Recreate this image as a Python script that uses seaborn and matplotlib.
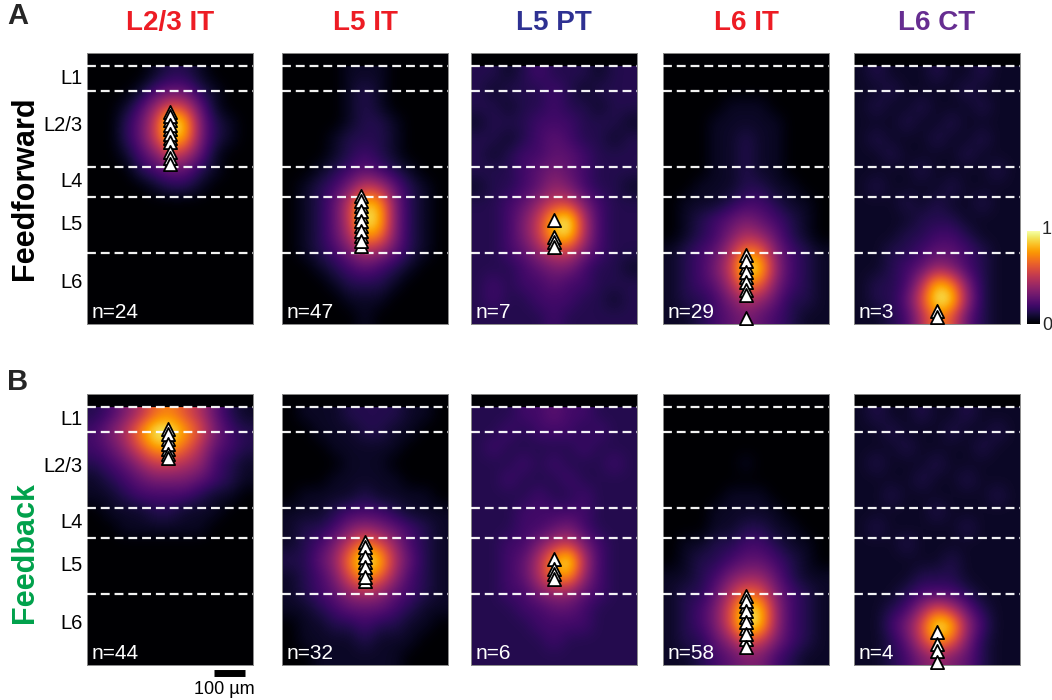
import numpy as np
import matplotlib
matplotlib.use("Agg")
import matplotlib.pyplot as plt
import seaborn as sns

sns.set_theme(style="white")
plt.rcParams['font.family'] = ['Liberation Sans', 'DejaVu Sans']

# ---------------- data ----------------
cell_types = ["L2/3 IT", "L5 IT", "L5 PT", "L6 IT", "L6 CT"]
title_colors = ["#ED1C24", "#ED1C24", "#2E3192", "#ED1C24", "#662D91"]
row_names = ["Feedforward", "Feedback"]
row_colors = ["#000000", "#00A14B"]
panel_letters = ["A", "B"]
layer_names = ["L1", "L2/3", "L4", "L5", "L6"]
layer_label_depth = [38, 190, 368, 505, 690]      # µm below pia
layer_bounds = [0, 77, 320, 416, 595]             # µm below pia
cortex_bottom = 822                               # µm
n_ff = [24, 47, 7, 29, 3]
n_fb = [44, 32, 6, 58, 4]

# Normalised input maps (hex digit / 15), 16 depth rows x 11 horizontal columns
ff_l23it = ["00001221000", "00013442100", "00136984100", "00248fd5210",
            "00248dc5210", "00135874100", "00023442100", "00001221000",
            "00000000000", "00000000000", "00000000000", "00000000000",
            "00000000000", "00000000000", "00000000000", "00000000000"]
ff_l5it = ["00001110000", "00001210000", "00001210000", "00001221000",
           "00012221000", "00012321000", "00123432100", "01235874210",
           "01248dc5210", "01248fd5210", "01247cb5210", "01235764210",
           "00123432100", "00012221000", "00001110000", "00000100000"]
ff_l5pt = ["22123222122", "21222321222", "22122322122", "12223332221",
           "22123432212", "21233443222", "22234543222", "12234653221",
           "22346885322", "22358df7322", "22358de7322", "22346885322",
           "22234553221", "23233433222", "23223332212", "22222322222"]
ff_l6it = ["00000000000", "00000000000", "00001110000", "00011111000",
           "00011211000", "00011211000", "00011211000", "00111221100",
           "01112332110", "01234543210", "01235764210", "12347ba5321",
           "12358fd6321", "12347ba5321", "12235764221", "11234543211"]
ff_l6ct = ["12111211211", "11211112111", "12112111211", "11121121111",
           "12111211211", "11211112111", "11112111121", "12111121111",
           "11121211211", "11112221111", "11122332111", "11223443211",
           "11234653211", "12237db5211", "12249fe6211", "11237b94211"]

fb_l23it = ["2357ab97421", "357bffc9532", "3469cca7432", "23468876321",
            "12345554321", "11233332110", "01112211100", "00111111000",
            "00000000000", "00000000000", "00000000000", "00000000000",
            "00000000000", "00000000000", "00000000000", "00000000000"]
fb_l5it = ["01112222110", "00111221100", "00011111000", "00001110000",
           "00011111000", "01111211110", "11123332111", "12235654321",
           "12358b96321", "2246bfd7421", "12359ca6321", "12346764321",
           "11234443211", "01122322110", "01111211100", "00111111000"]
fb_l5pt = ["22233433222", "22323332322", "23222223222", "22232322232",
           "22322232222", "22223223222", "22233333222", "22233453222",
           "22335785322", "22347cf7322", "22347bc6322", "22335664322",
           "22233443222", "22223333222", "22222322222", "22222222222"]
fb_l6it = ["00000000000", "00000000000", "00000000000", "00000100000",
           "00000000000", "00001110000", "00011111000", "00011221100",
           "01122332110", "01223443210", "11235664211", "12247a95321",
           "12359ed6321", "12359fd6321", "12246985321", "11234553211"]
fb_l6ct = ["12112112111", "11211121121", "11121111211", "12111211111",
           "11112112111", "11211111121", "11111211111", "12111112111",
           "11121111111", "11111121111", "11112221111", "11123332111",
           "11236974211", "11359fd6311", "11248ca5211", "11235654211"]

# Soma depths (µm below pia) and horizontal soma position (µm)
ff_soma_depth = [
    [144, 172, 158, 200, 186, 228, 214, 242, 272, 291, 312],
    [413, 445, 429, 477, 461, 509, 493, 541, 525, 572, 557],
    [490, 544, 560, 576],
    [602, 640, 620, 672, 656, 688, 712, 728, 803],
    [780, 800],
]
fb_soma_depth = [
    [68, 100, 84, 132, 116, 148, 161],
    [430, 462, 446, 494, 478, 526, 510, 555, 542],
    [484, 516, 530, 548],
    [602, 634, 618, 668, 650, 704, 686, 740, 722, 765],
    [718, 756, 778, 812],
]
ff_soma_x = [0, -12, 0, 0, 0]
fb_soma_x = [-5, 0, 0, 0, 0]

ff_maps = [ff_l23it, ff_l5it, ff_l5pt, ff_l6it, ff_l6ct]
fb_maps = [fb_l23it, fb_l5it, fb_l5pt, fb_l6it, fb_l6ct]

# ---------------- layout ----------------
W, H = 1052, 700
fig = plt.figure(figsize=(W / 100, H / 100), dpi=100)
fig.patch.set_facecolor("white")

panel_lefts = [87, 282, 471, 663, 854]
panel_w = 166
row_tops = [53, 394]
panel_h = 271
half_w = 265
y_top = -43


def to_grid(rows):
    return np.array([[int(ch, 16) for ch in r] for r in rows], dtype=float) / 15.0


rows_data = [(ff_maps, ff_soma_depth, ff_soma_x, n_ff),
             (fb_maps, fb_soma_depth, fb_soma_x, n_fb)]

for r, (maps, depths, xs, ns) in enumerate(rows_data):
    for c in range(5):
        left = panel_lefts[c]
        top = row_tops[r]
        ax = fig.add_axes([left / W, 1 - (top + panel_h) / H, panel_w / W, panel_h / H])
        ax.set_facecolor("#000004")
        grid = to_grid(maps[c])
        ax.imshow(grid, cmap="inferno", vmin=0, vmax=1,
                  extent=(-half_w, half_w, cortex_bottom, 0),
                  aspect="auto", interpolation="bicubic", origin="upper", zorder=1)
        for b in layer_bounds:
            ax.axhline(b, color="white", lw=1.6, dashes=(4, 2.2), alpha=0.95, zorder=3)
        d = depths[c]
        sns.scatterplot(x=[xs[c]] * len(d), y=d, marker="^", s=90, color="white",
                        edgecolor="black", linewidth=1.3, ax=ax, legend=False,
                        clip_on=False, zorder=5)
        ax.text(-half_w + 15, 803, f"n={ns[c]}", color="white", fontsize=15,
                ha="left", va="baseline", zorder=6)
        ax.set_xlim(-half_w, half_w)
        ax.set_ylim(cortex_bottom, y_top)
        ax.set_xticks([])
        ax.set_yticks([])
        ax.set_xlabel("")
        ax.set_ylabel("")
        for sp in ax.spines.values():
            sp.set_color("#8a8a8a")
            sp.set_linewidth(0.7)
        if c == 0:
            for name, dep in zip(layer_names, layer_label_depth):
                ax.text(-half_w - 14, dep, name, ha="right", va="center",
                        fontsize=14.5, color="black", clip_on=False)
        if r == 1 and c == 0:
            ax.plot([140, 240], [846, 846], color="black", lw=5,
                    solid_capstyle="butt", clip_on=False)
            ax.text(175, 900, "100 µm", ha="center", va="center",
                    fontsize=13, color="black", clip_on=False)
        if r == 0:
            fig.text((left + panel_w / 2) / W, 1 - 23 / H, cell_types[c],
                     color=title_colors[c], fontsize=20, fontweight="bold",
                     ha="center", va="center")

# row labels
fig.text(25 / W, 1 - 188 / H, row_names[0], rotation=90, fontsize=22,
         fontweight="bold", color=row_colors[0], ha="center", va="center")
fig.text(25 / W, 1 - 553 / H, row_names[1], rotation=90, fontsize=22,
         fontweight="bold", color=row_colors[1], ha="center", va="center")
fig.text(7 / W, 1 - 16 / H, panel_letters[0], fontsize=21, fontweight="bold",
         ha="left", va="center")
fig.text(7 / W, 1 - 382 / H, panel_letters[1], fontsize=21, fontweight="bold",
         ha="left", va="center")

# colorbar
cax = fig.add_axes([1027 / W, 1 - 324 / H, 13 / W, 93 / H])
cax.imshow(np.linspace(0, 1, 256)[:, None], cmap="inferno", aspect="auto",
           origin="lower", extent=(0, 1, 0, 1))
cax.set_xticks([])
cax.set_yticks([])
for sp in cax.spines.values():
    sp.set_visible(False)
fig.text(1042 / W, 1 - 229 / H, "1", fontsize=13, ha="left", va="center")
fig.text(1042 / W, 1 - 325 / H, "0", fontsize=13, ha="left", va="center")

fig.savefig("out.png", dpi=100, facecolor="white")
